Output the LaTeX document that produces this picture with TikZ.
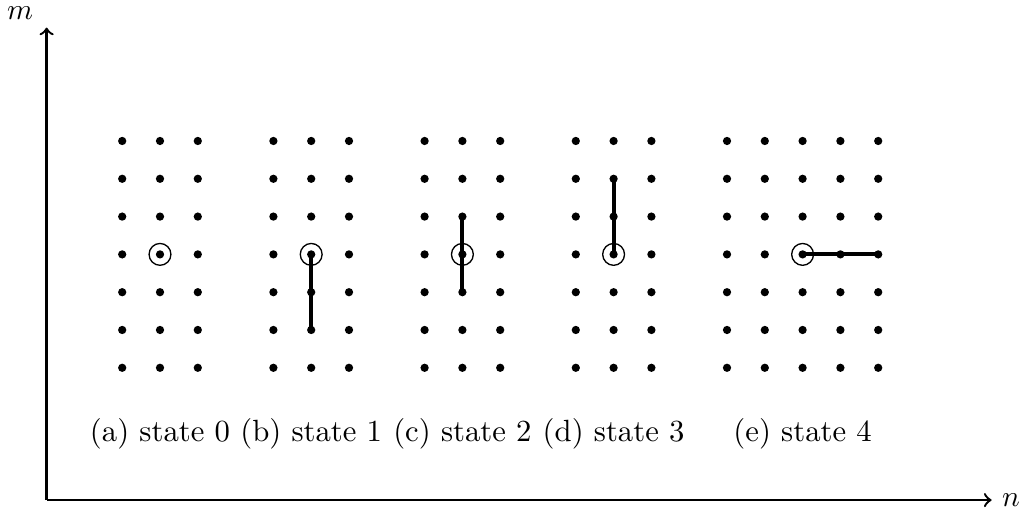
\documentclass[tikz,border=0pt]{standalone}
\begin{document}
\begin{tikzpicture}[x=0.45cm,y=0.45cm,
  font=\fontsize{10.4}{12.5}\selectfont,
  dot/.style={circle,fill=black,inner sep=0pt,minimum size=2.8pt},
  ring/.style={circle,draw=black,line width=0.45pt,inner sep=0pt,minimum size=7.4pt},
  move/.style={line width=1.4pt,line cap=round},
  axis/.style={thick,->},
  caption/.style={anchor=base}]
\useasboundingbox (-4.233,-6.868) rectangle (22.91,6.73);
\coordinate (O) at (-3,-6.5);
\coordinate (Ytip) at (-3,6);
\coordinate (Xtip) at (22,-6.5);
\draw[axis] (O) -- (Ytip);
\draw[axis] (O) -- (Xtip);
\node[inner sep=0pt] (mlabel) at (-3.70,6.38) {$m$};
\node[right] (nlabel) at (Xtip) {$n$};
\foreach \g/\cx/\nc in {a/0/3,b/4/3,c/8/3,d/12/3,e/17/5} {
  \foreach \i in {1,...,\nc} {
    \foreach \j in {1,...,7} {
      \node[dot] (\g-\i-\j) at ({\cx+\i-(\nc+1)/2},{4-\j}) {};
    }
  }
}
\node[ring] (ringA) at (a-2-4) {};
\node[ring] (ringB) at (b-2-4) {};
\node[ring] (ringC) at (c-2-4) {};
\node[ring] (ringD) at (d-2-4) {};
\node[ring] (ringE) at (e-3-4) {};
\draw[move] (b-2-4.center) -- (b-2-5.center) -- (b-2-6.center);
\draw[move] (c-2-3.center) -- (c-2-4.center) -- (c-2-5.center);
\draw[move] (d-2-2.center) -- (d-2-3.center) -- (d-2-4.center);
\draw[move] (e-3-4.center) -- (e-4-4.center) -- (e-5-4.center);
\node[caption] (capA) at (0,-4.95) {(a) state 0};
\node[caption] (capB) at (4,-4.95) {(b) state 1};
\node[caption] (capC) at (8,-4.95) {(c) state 2};
\node[caption] (capD) at (12,-4.95) {(d) state 3};
\node[caption] (capE) at (17,-4.95) {(e) state 4};
\end{tikzpicture}
\end{document}
